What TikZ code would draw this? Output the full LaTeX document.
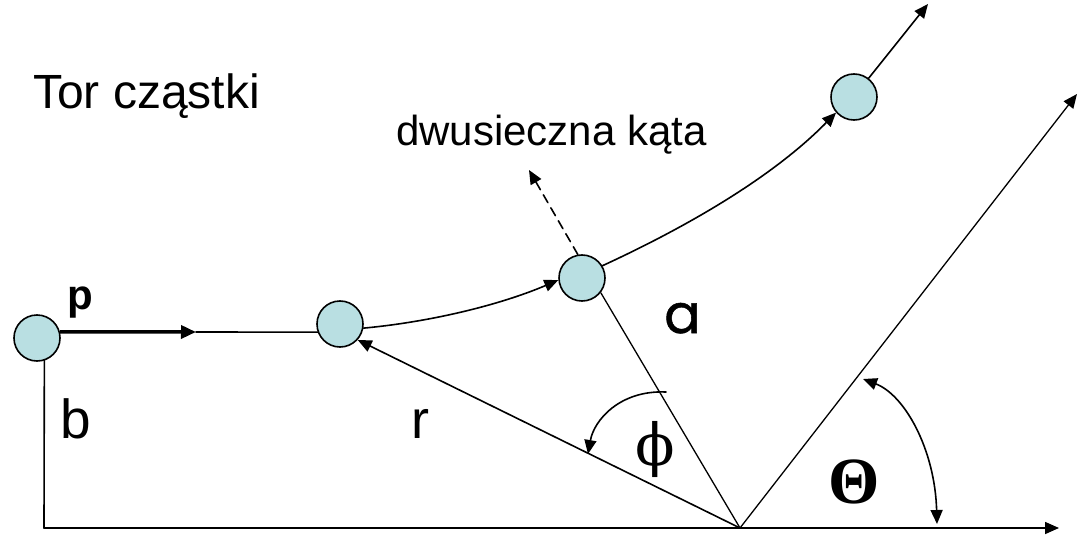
\RequirePackage{fix-cm}
\documentclass[tikz,border=0pt]{standalone}
\usepackage{fontspec}
\setmainfont{Liberation Sans}
\newfontfamily\popfont[FakeBold=1]{Poppins}
\newfontfamily\grkfont{DejaVu Serif}
\newfontfamily\thfont{Liberation Serif}
\usetikzlibrary{arrows.meta}
\definecolor{ballfill}{RGB}{185,223,226}
\tikzset{
  ball/.style={circle, draw=black, line width=1.6pt, fill=ballfill, minimum size=46pt, inner sep=0pt},
  ln/.style={line width=1.6pt, line cap=round},
  tip/.style={-{Triangle[length=14pt,width=12pt]}},
  lbl/.style={inner sep=0pt, anchor=base west},
}
\newcommand{\fsz}[1]{\fontsize{#1}{#1}\selectfont}
\begin{document}
\begin{tikzpicture}[x=1pt,y=-1pt]
\useasboundingbox (0,0) rectangle (1077,535);
% balls
\node[ball] (c1) at (37,338) {};
\node[ball] (c2) at (340,324) {};
\node[ball] (c3) at (582,278) {};
\node[ball] (c4) at (854,97) {};
% coordinates
\coordinate (O) at (740,528);
\coordinate (bl) at (44,528);
\coordinate (xend) at (1059,528);
\coordinate (rend) at (1077,94);
\coordinate (ptip) at (196,332);
\coordinate (dtip) at (529,170);
\coordinate (outtip) at (928,4);
\coordinate (phs) at (666,392);
\coordinate (phe) at (588,454);
\coordinate (ths) at (863,379);
\coordinate (the) at (937,524);
% lines
\draw[ln] (c1.288) -- (bl);
\draw[ln, tip] (bl) -- (xend);
\draw[line width=3.5pt, -{Triangle[length=15pt,width=13pt]}] (c1.15) -- (ptip);
\draw[ln] (ptip) -- (c2.200);
\draw[ln, tip] (O) -- (c2.318);
\draw[line width=1.3pt] (O) -- (c3.322);
\draw[line width=1.3pt, tip] (O) -- (rend);
\draw[ln, dashed, dash pattern=on 9pt off 6pt, tip] (c3.100) -- (dtip);
\draw[ln, tip] (c2.-10) .. controls (430,322) and (500,305) .. (c3.185);
\draw[ln, tip] (c3.31) .. controls (680,230) and (770,180) .. (c4.221);
\draw[ln, tip] (c4.52) -- (outtip);
\draw[ln, tip] (phs) .. controls (620,390) and (594,420) .. (phe);
\draw[ln, {Triangle[length=14pt,width=12pt]}-{Triangle[length=14pt,width=12pt]}] (ths) .. controls (905,395) and (935,450) .. (the);
% labels
\node[lbl] (title) at (33,109) {\fsz{48}Tor cząstki};
\node[lbl] (bis) at (396,146) {\fsz{42}dwusieczna kąta};
\node[lbl] (plbl) at (67,309) {\fsz{42}\bfseries p};
\node[lbl] (blbl) at (60,438) {\fsz{55}b};
\node[lbl] (rlbl) at (411,438) {\fsz{54}r};
\node[lbl] (albl) at (664,333) {\fsz{54}\popfont a};
\node[inner sep=0pt] (phil) at (655,449) {\fsz{58}\grkfont ϕ};
\node[inner sep=0pt] (thl) at (854,482) {\fsz{66}\thfont\bfseries Θ};
\end{tikzpicture}
\end{document}
